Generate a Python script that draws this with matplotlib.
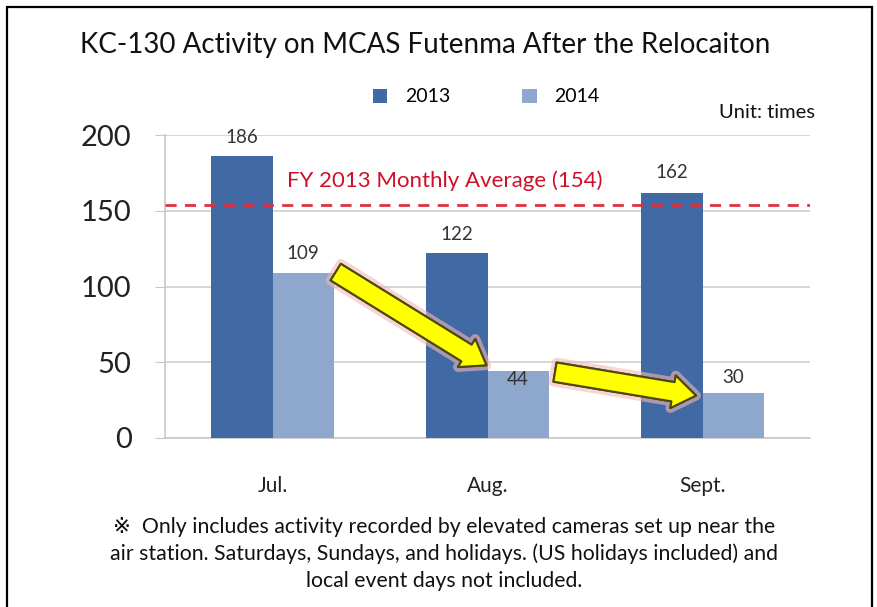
import matplotlib
matplotlib.use('Agg')
import matplotlib.pyplot as plt
import matplotlib.patheffects as pe
from matplotlib.patches import Rectangle, FancyArrowPatch
import numpy as np

months = ['Jul.', 'Aug.', 'Sept.']
fy2013 = [186, 122, 162]
fy2014 = [109, 44, 30]
average_2013 = 154

plt.rcParams['font.family'] = ['Lato', 'DejaVu Sans']

c2013 = '#4169A3'
c2014 = '#8DA7CD'

fig = plt.figure(figsize=(8.77, 6.07), dpi=100)
ax = fig.add_axes([165 / 877, 1 - 438 / 607, 645 / 877, 303 / 607])

x = np.arange(len(months))
width = 0.284

b1 = ax.bar(x - width / 2, fy2013, width, color=c2013, label='2013', zorder=3)
b2 = ax.bar(x + width / 2, fy2014, width, color=c2014, label='2014', zorder=3)

ax.set_xlim(-0.5, 2.5)
ax.set_ylim(0, 200)
ax.set_yticks([0, 50, 100, 150, 200])
ax.tick_params(axis='y', labelsize=21, length=7, color='#C8C8C8', pad=17,
               labelcolor='#222222')
ax.set_xticks(x)
ax.set_xticklabels(months)
ax.tick_params(axis='x', labelsize=15, length=0, pad=27, labelcolor='#222222')
ax.grid(axis='y', color='#D0D0D0', linewidth=1.2, zorder=0)
for s in ['top', 'right']:
    ax.spines[s].set_visible(False)
for s in ['left', 'bottom']:
    ax.spines[s].set_color('#C8C8C8')
    ax.spines[s].set_linewidth(1.2)

# value labels
offsets_2013 = [7, 7, 8]
offsets_2014 = [8, -12, 5]
for rect, v, dy in zip(b1, fy2013, offsets_2013):
    ax.annotate(str(v), xy=(rect.get_x() + rect.get_width() / 2, v),
                xytext=(0, dy), textcoords='offset points',
                ha='center', va='bottom', fontsize=13.5, color='#333333')
for rect, v, dy in zip(b2, fy2014, offsets_2014):
    ax.annotate(str(v), xy=(rect.get_x() + rect.get_width() / 2, v),
                xytext=(0, dy), textcoords='offset points',
                ha='center', va='bottom', fontsize=13.5, color='#333333',
                zorder=6)

# monthly average line
ax.axhline(average_2013, color='#E03040', linestyle=(0, (4, 3)),
           linewidth=2, zorder=4)
ax.text(0.8, average_2013 + 9, 'FY 2013 Monthly Average (%d)' % average_2013,
        ha='center', va='bottom', fontsize=16, color='#D0102A', zorder=5)

# yellow trend arrows between the 2014 bars
glow = [pe.withStroke(linewidth=7, foreground='#F7B7B7', alpha=0.6)]
starts = [(x[0] + width + 0.01, fy2014[0] + 0.5),
          (x[1] + width + 0.03, fy2014[1] - 0.5)]
ends = [(x[1] - 0.005, fy2014[1] + 4),
        (x[2] - 0.03, fy2014[2] - 2)]
for s, e in zip(starts, ends):
    arr = FancyArrowPatch(s, e, arrowstyle='simple,head_width=1.7,head_length=1.2,tail_width=1.0',
                          mutation_scale=14, facecolor='#FFFF00',
                          edgecolor='#4A4A10', linewidth=1.5, zorder=7,
                          shrinkA=0, shrinkB=0)
    arr.set_path_effects(glow + [pe.Normal()])
    ax.add_patch(arr)

# legend
fig.legend(handles=[b1, b2], labels=['2013', '2014'], loc='center',
           bbox_to_anchor=(486 / 877, 1 - 97 / 607), ncol=2, frameon=False,
           fontsize=14, handlelength=0.75, handleheight=0.75,
           columnspacing=3.7, handletextpad=0.9)

fig.text(425 / 877, 1 - 45 / 607, 'KC-130 Activity on MCAS Futenma After the Relocaiton',
         ha='center', va='center', fontsize=20, color='#111111')
fig.text(815 / 877, 1 - 112 / 607, 'Unit: times', ha='right', va='center',
         fontsize=14.5, color='#111111')

foot = ['\u203b  Only includes activity recorded by elevated cameras set up near the',
        'air station. Saturdays, Sundays, and holidays. (US holidays included) and',
        'local event days not included.']
for i, line in enumerate(foot):
    fig.text(444 / 877, 1 - (527 + 27 * i) / 607, line, ha='center', va='center',
             fontsize=15.3, color='#111111',
             family=['Lato', 'DejaVu Sans'])

# outer frame
fig.add_artist(Rectangle((7 / 877, -0.05), 865 / 877, 1.05 - 7 / 607,
                         transform=fig.transFigure, fill=False,
                         edgecolor='black', linewidth=1.6, clip_on=False))

fig.savefig('out.png', dpi=100)
